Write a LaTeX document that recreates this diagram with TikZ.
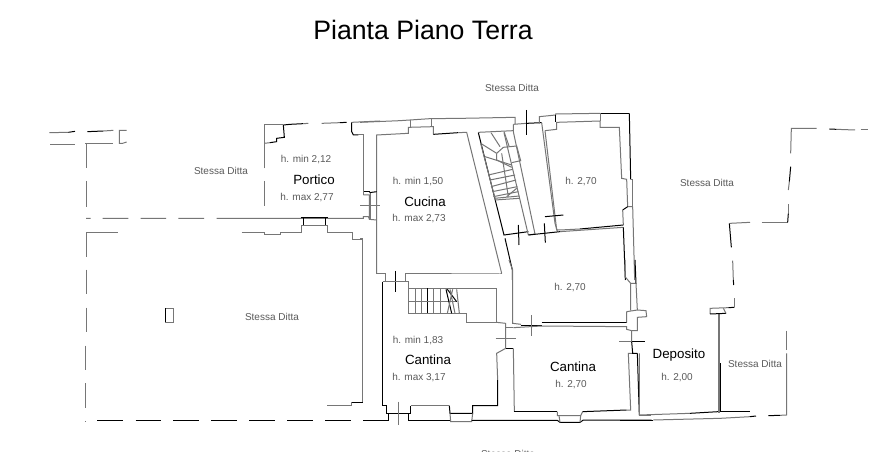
\documentclass[tikz,border=0pt]{standalone}
\usepackage{fontspec}
\setmainfont{Liberation Sans}
\definecolor{wg}{HTML}{767676}
\definecolor{tg}{HTML}{5A5A5A}
\tikzset{
  wa/.style={draw=wg,line width=.75pt,line join=miter},
  wb/.style={draw=black,line width=.75pt,line join=miter},
  wt/.style={draw=wg,line width=1.4pt},
  ttl/.style={font=\fontsize{20pt}{22pt}\selectfont,text=black,inner sep=0pt},
  room/.style={font=\fontsize{10pt}{11pt}\selectfont,text=black,inner sep=0pt},
  note/.style={font=\fontsize{7.5pt}{9pt}\selectfont,text=tg,inner sep=0pt},
  za/.style={shift={(0,100)},x=.25pt,y=-.25pt},
  zb/.style={shift={(360,90)},x=.25pt,y=-.25pt},
  zc/.style={shift={(360,260)},x=.25pt,y=-.25pt},
  zd/.style={shift={(620,110)},x=.25pt,y=-.25pt},
  ze/.style={shift={(0,270)},x=.25pt,y=-.25pt}
}
\begin{document}
\begin{tikzpicture}[x=.75pt,y=-.75pt]
\useasboundingbox (0,0) rectangle (892,452);
\clip (0,0) rectangle (892,452);
\fill[white] (0,0) rectangle (892,452);
% left neighbours and Portico
\begin{scope}[za]
\draw[wa] (148,98)--(205,97); \draw[wb] (205,97)--(225,94);
\draw[wb] (262,95)--(310,93); \draw[wa] (310,93)--(340,91);
\draw[wa] (150,133)--(225,133); \draw[wa] (255,130)--(340,130);
\draw[wa] (380,91)--(358,91)--(358,130)--(368,130)--(380,126);
\draw[wa] (260,130)--(260,205) (260,243)--(260,320);
\draw[wa] (258,355)--(272,355) (308,355)--(385,355) (422,355)--(498,355) (535,355)--(612,355) (650,355)--(1090,355)--(1090,350)--(1105,350)--(1108,356);
\draw[wa] (793,205)--(793,75)--(850,75);
\draw[wb] (850,75)--(870,73)--(910,71); \draw[wa] (910,71)--(925,70);
\draw[wa] (965,70)--(1020,68); \draw[wb] (1020,68)--(1040,67);
\draw[wb] (850,75)--(853,112)--(830,115)--(830,125)--(810,128); \draw[wa] (810,128)--(793,130);
\draw[wa] (793,243)--(793,318);
\draw[wb] (1055,67)--(1055,95)--(1060,105)--(1075,105); \draw[wa] (1075,105)--(1090,105)--(1090,275);
\draw[wb] (1090,275)--(1110,275);
\draw[wa] (1055,67)--(1140,63);
\draw[wa] (1110,275)--(1110,356);
\draw[wa] (1080,316)--(1140,316);
\draw[wb] (902,352)--(983,352);
\draw[wb] (910,352)--(910,377); \draw[wb] (977,352)--(977,377); \draw[wa] (910,377)--(977,377);
\draw[wa] (725,397)--(793,397)--(793,403)--(840,403)--(840,397)--(903,397)--(903,377)--(910,377);
\draw[wa] (977,377)--(983,377)--(983,397)--(1057,397)--(1057,418)--(1088,418)--(1088,540);
\draw[wa] (260,397)--(353,397) (260,397)--(260,470) (260,510)--(260,540);
\end{scope}
% lower left neighbour
\begin{scope}[ze]
\draw[wa] (260,0)--(260,73) (260,113)--(260,187) (257,227)--(257,300) (257,340)--(257,415) (257,453)--(257,456);
\draw[wb] (292,451)--(369,451) (407,451)--(483,451) (520,451)--(597,451) (633,451)--(711,451) (747,451)--(825,451) (861,451)--(939,451) (975,451)--(1053,451) (1089,451)--(1165,451)--(1165,430);
\draw[wa] (521,114)--(496,114); \draw[wb] (496,114)--(496,157); \draw[wa] (496,157)--(521,157)--(521,114);
\draw[wa] (1088,0)--(1088,397); \draw[wb] (1088,397)--(1055,397); \draw[wa] (1055,397)--(1055,406)--(982,406);
\end{scope}
% Cucina, staircase, upper room
\begin{scope}[zb]
\draw[wa] (0,97)--(120,92)--(150,90)--(210,86)--(305,85)--(465,82)--(465,103);
\draw[wa] (460,103)--(500,100); \draw[wb] (500,100)--(545,98);
\draw[wb] (500,60)--(500,135);
\draw[wa] (150,90)--(150,112) (215,86)--(215,110);
\draw[wa] (50,550)--(50,135)--(145,130)--(145,112)--(220,110)--(220,133);
\draw[wb] (220,133)--(295,128); \draw[wa] (295,128)--(320,127)--(425,550);
\draw[wa] (10,135)--(10,315);
\draw[wb] (28,308)--(50,305);
\draw[wa] (10,315)--(28,315)--(28,388)--(50,390);
\draw[wa] (0,447)--(8,447)--(8,570);
% staircase
\draw[wa] (355,127)--(460,122);
\draw[wa] (460,103)--(460,125)--(525,432)--(505,435);
\draw[wb] (355,128)--(432,435)--(505,425);
\draw[wb] (475,405)--(477,465);
\draw[wa] (362,160)--(405,325);
\draw[wa] (432,128)--(505,435);
\draw[wa] (393,128)--(420,170) (432,125)--(447,168) (362,160)--(410,190) (375,200)--(455,225);
\draw[wa] (410,190)--(410,210)--(455,232);
\draw[wa] (410,190)--(430,172)--(470,168)--(482,212)--(455,218);
\draw[wa] (385,255)--(458,238) (390,270)--(465,255) (393,290)--(468,270) (397,305)--(472,290) (400,320)--(475,305) (403,325)--(478,318) (405,330)--(478,325);
\draw[wa] (440,320)--(470,295) (425,190)--(445,320);
% room h. 2,70 upper
\draw[wa] (538,100)--(538,80)--(587,75)--(587,72)--(720,70);
\draw[wb] (720,70)--(808,70);
\draw[wb] (808,70)--(812,268);
\draw[wa] (812,268)--(818,268);
\draw[wa] (818,268)--(818,350);
\draw[wa] (818,350)--(824,570);
\draw[wb] (587,75)--(587,97);\draw[wa] (720,70)--(720,93);
\draw[wa] (555,122)--(590,118)--(590,97)--(720,93)--(720,112)--(778,112)--(785,265)--(800,268)--(803,350)--(818,350);
\draw[wb] (803,350)--(788,360);
\draw[wa] (788,360)--(790,405);
\draw[wb] (790,405)--(660,417); \draw[wa] (660,417)--(600,420)--(590,420)--(555,122);
\draw[wa] (545,98)--(585,400)--(592,424);
\draw[wb] (505,435)--(600,425); \draw[wa] (600,425)--(790,412);
\draw[wb] (790,412)--(796,570);
\draw[wb] (555,380)--(610,375) (553,400)--(556,458);
\draw[wb] (435,445)--(457,540)--(457,570);
\end{scope}
% Cantine
\begin{scope}[zc]
\draw[wa] (50,0)--(50,42)--(77,42)--(77,65);
\draw[wa] (135,65)--(135,42)--(420,42)--(425,42);
\draw[wb] (107,33)--(107,95);
\draw[wb] (68,65)--(68,435)--(78,435)--(78,460);
\draw[wa] (68,65)--(145,65)--(145,160)--(320,160)--(320,187)--(410,187);
\draw[wa] (145,85)--(410,85)--(410,187);
\draw[wa] (165,85)--(165,160) (183,85)--(183,160) (221,85)--(221,160) (240,85)--(240,160);
\draw[wb] (202,85)--(202,160);
\draw[wa] (145,125)--(290,125);
\draw[wb] (258,88)--(275,160) (262,88)--(290,125);
\draw[wa] (278,88)--(262,160) (290,88)--(298,160) (270,88)--(285,160);
\draw[wa] (410,187)--(437,190)--(437,265);
\draw[wb] (437,265)--(460,265);
\draw[wa] (437,265)--(410,280)--(413,360);
\draw[wb] (413,360)--(413,437)--(338,437)--(338,460)--(270,460)--(268,437);
\draw[wa] (268,437)--(152,437);
\draw[wb] (152,437)--(152,460)--(85,460);
\draw[wb] (78,460)--(85,460) (85,460)--(85,481) (145,460)--(145,481)--(270,481);
\draw[wb] (10,481)--(85,481);
\draw[wa] (115,425)--(115,495);
\draw[wa] (270,460)--(272,485)--(335,485)--(338,460);
\draw[wb] (335,481)--(592,481)--(600,487)--(660,487)--(670,480)--(875,480);
\draw[wa] (458,30)--(447,0) (458,30)--(458,190)--(483,193);
\draw[wb] (483,196)--(545,196);
\draw[wb] (545,188)--(800,188);
\draw[wa] (460,203)--(545,198)--(800,200)--(800,208)--(815,212);
\draw[wa] (437,203)--(460,203);
\draw[wa] (515,165)--(515,227) (407,235)--(467,235);
\draw[wa] (778,245)--(815,245); \draw[wb] (815,245)--(855,245);
\draw[wa] (460,265)--(463,455);
\draw[wb] (463,455)--(592,455);
\draw[wa] (592,455)--(592,467)--(597,467)--(662,467)--(668,455);
\draw[wb] (668,455)--(800,450);
\draw[wa] (800,450)--(812,450)--(805,280)--(818,280);
\draw[wb] (815,245)--(818,280)--(832,280);
\draw[wb] (832,280)--(838,465);
\draw[wa] (838,465)--(872,465);
\draw[wa] (597,467)--(600,487) (662,467)--(660,487);
\draw[wa] (795,0)--(795,50)--(812,70)--(828,70)--(832,150)--(858,152)--(860,170)--(832,172)--(832,212)--(815,212);
\draw[wb] (825,0)--(828,70);
\draw[wa] (800,155)--(800,188) (800,155)--(832,150) (812,70)--(812,150) (815,212)--(815,245);
\end{scope}
% Deposito and right neighbours
\begin{scope}[zd]
\draw[wa] (58,730)--(58,915)--(210,910);
\draw[wb] (210,910)--(295,905);
\draw[wb] (300,905)--(390,905);
\draw[wb] (100,930)--(0,930);
\draw[wa] (100,930)--(300,925)--(390,920);
\draw[wb] (390,920)--(408,918);
\draw[wb] (445,917)--(480,916); \draw[wa] (480,916)--(500,915)--(500,730);
\draw[wa] (500,662)--(500,720);
\draw[wt] (297,612)--(297,908);
\draw[wb] (301,760)--(301,905);
\draw[wa] (270,612)--(270,595)--(325,593); \draw[wb] (325,593)--(343,592);
\draw[wa] (343,592)--(343,565);
\draw[wb] (270,612)--(318,610); \draw[wa] (318,610)--(310,595);
\draw[wa] (338,452)--(340,510); \draw[wb] (340,510)--(341,525);
\draw[wb] (328,340)--(334,412);
\draw[wa] (330,340)--(390,337); \draw[wa] (425,337)--(503,337);
\draw[wb] (503,337)--(505,310); \draw[wa] (505,310)--(505,283);
\draw[wa] (505,240)--(508,215); \draw[wb] (508,215)--(512,170);
\draw[wa] (512,130)--(514,55)--(590,55);
\draw[wb] (628,57)--(650,58); \draw[wa] (650,58)--(705,60);
\draw[wa] (722,60)--(745,60);
\end{scope}
% texts
\node[ttl] (title) at (423,30) {Pianta Piano Terra};
\node[note] (s1) at (512,88) {Stessa Ditta};
\node[note] (s2) at (221,170.5) {Stessa Ditta};
\node[note] (s3) at (707,183) {Stessa Ditta};
\node[note] (s4) at (272,317) {Stessa Ditta};
\node[note] (s5) at (755,364) {Stessa Ditta};
\node[note] (s6) at (508,453.5) {Stessa Ditta};
\node[note] (p1) at (306,159.5) {h. min 2,12};
\node[room] (p2) at (314,180) {Portico};
\node[note] (p3) at (307,198) {h. max 2,77};
\node[note] (c1) at (418,182) {h. min 1,50};
\node[room] (c2) at (425,202) {Cucina};
\node[note] (c3) at (419,219) {h. max 2,73};
\node[note] (r1) at (581,182) {h. 2,70};
\node[note] (r2) at (570,288) {h. 2,70};
\node[note] (k1) at (418,341) {h. min 1,83};
\node[room] (k2) at (428,360) {Cantina};
\node[note] (k3) at (419,378) {h. max 3,17};
\node[room] (k4) at (573,367) {Cantina};
\node[note] (k5) at (571,385) {h. 2,70};
\node[room] (d1) at (679,355) {Deposito};
\node[note] (d2) at (677,378) {h. 2,00};
\end{tikzpicture}
\end{document}
